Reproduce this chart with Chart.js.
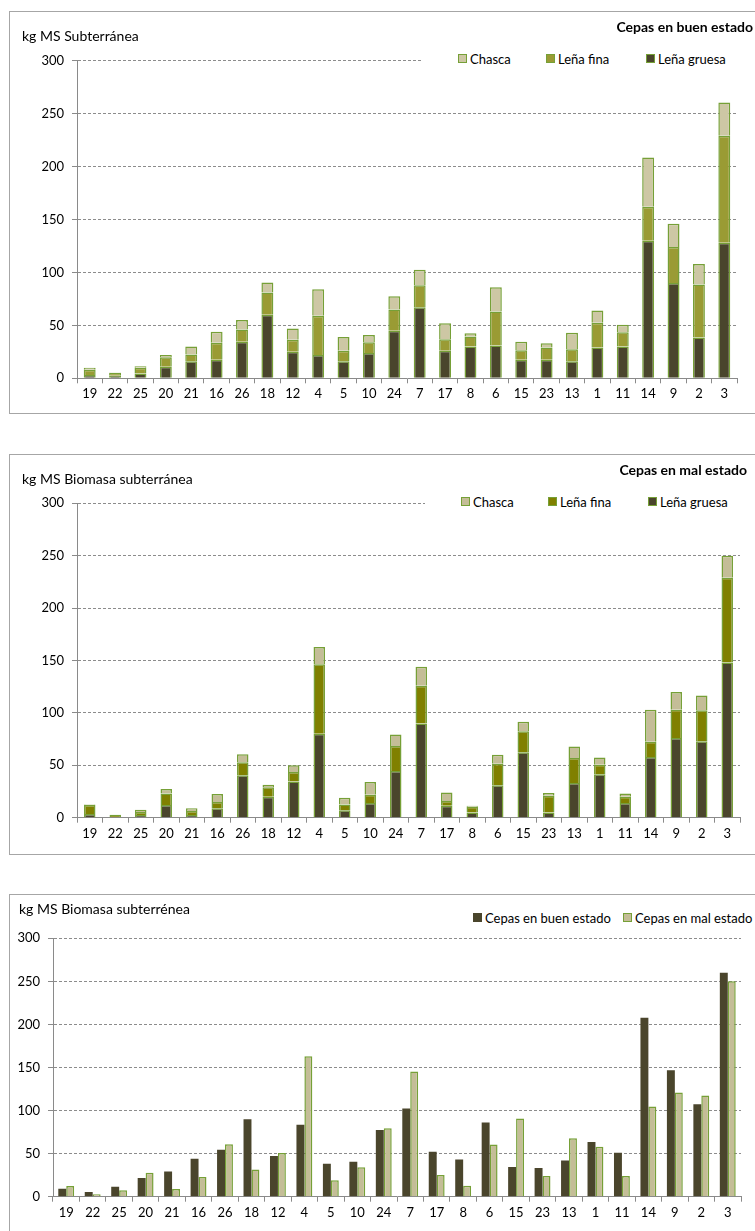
<!DOCTYPE html>
<html><head><meta charset="utf-8">
<script src="https://cdn.jsdelivr.net/npm/chart.js@4.4.1/dist/chart.umd.min.js"></script>
<style>
html,body{margin:0;padding:0;background:#fff;}
body{width:755px;height:1231px;overflow:hidden;position:relative;font-family:Lato,'Open Sans',sans-serif;color:#000;}
.frame{position:absolute;left:9px;width:800px;border:1px solid #a6a6a6;box-sizing:border-box;z-index:0;}
canvas{position:absolute;left:0;z-index:1;}
.txt{position:absolute;white-space:nowrap;z-index:2;line-height:18px;height:18px;}
.legend{position:absolute;background:#fff;height:16px;z-index:2;}
.li{position:absolute;top:0;white-space:nowrap;font-size:13px;line-height:16px;}
.sw{position:absolute;top:3px;left:0;width:9px;height:9px;box-sizing:border-box;}
.lt{position:absolute;left:12px;top:0;}
</style></head><body>
<script>
// ---------- data ----------
const categories = ['19','22','25','20','21','16','26','18','12','4','5','10','24','7','17','8','6','15','23','13','1','11','14','9','2','3'];
const yTicks = [0,50,100,150,200,250,300];

// Cepas en buen estado (kg MS)
const buenGruesa = [3,2.5,4.5,11,16,17.5,34.5,60,25,22,16,24,45,67,26,30,31,17.5,17.5,16,29,30,130,90,38.5,128];
const buenFina   = [5,2.8,5.5,9,6.5,16,11.5,21,11.5,37,10,10,20,21,11,9.5,32,9,11.5,11.5,23.5,13.5,32,34,50,101];
const buenChasca = [2,0.2,1.5,2,7.5,10.5,9,9.5,10.5,25,13,7,12.5,14.5,15,3,23,8,4,15.5,11.5,7,46.5,22,19.5,31.5];

// Cepas en mal estado (kg MS)
const malGruesa = [3.5,0.5,2.5,12,2.5,9,40.5,20,34.5,80,7,14,44.5,90,11.5,5,31,62.5,5,33,41.5,14,58,76,73,148];
const malFina   = [8.5,2,3,11,4,6,12.5,9,9,66.5,5.5,8,24,36,4.5,5.5,20.5,20,16,24,9,6,14.5,27,29.5,81];
const malChasca = [0.5,0.3,2,4.5,2.5,7.5,7.5,2.5,6.5,16.5,6.5,12,11,18,8,1,8.5,9,2.5,11,7,3,30.5,17,14,21];

// Comparación total
const totalBuen = [9.3,5.4,11.6,21.7,29.4,44.1,54.6,89.8,47.2,83.6,38.3,40.6,77.4,102.4,52.2,43.3,86.2,34.4,33.2,42.1,63.4,51,207.9,146.8,107.4,260];
const totalMal  = [12.4,2.7,7.4,27.9,8.9,22.8,60.8,31.7,50.7,163,19,34.1,79.6,145.3,25.1,12.8,60.7,90.8,24,68,58,24,104.7,120.9,117.5,250];

// ---------- styles ----------
const C_GRUESA = '#4a452c';
const C_FINA1 = '#9a9b34';
const C_FINA2 = '#808000';
const C_CHASCA1 = '#cdc7a4';
const C_CHASCA2 = '#c4bd97';
const C_BORDER = '#76a037';
const FONT = 'Lato';
const W = 755;

function addFrame(top, height){
  const d = document.createElement('div');
  d.className='frame'; d.style.top=top+'px'; d.style.height=height+'px';
  document.body.appendChild(d);
}
function addText(text, x, yc, opts){
  const d = document.createElement('div');
  d.className='txt'; d.textContent=text;
  d.style.top=(yc-9)+'px';
  d.style.fontSize=(opts.size||14)+'px';
  if(opts.bold) d.style.fontWeight='700';
  if(opts.right!==undefined){ d.style.right=(W-opts.right)+'px'; } else { d.style.left=x+'px'; }
  document.body.appendChild(d);
}
function addLegend(items, bgLeft, bgRight, yc){
  const lg = document.createElement('div');
  lg.className='legend';
  lg.style.left=bgLeft+'px'; lg.style.width=(bgRight-bgLeft)+'px'; lg.style.top=(yc-8)+'px';
  items.forEach(it=>{
    const li=document.createElement('div'); li.className='li'; li.style.left=(it.x-bgLeft)+'px';
    const sw=document.createElement('span'); sw.className='sw';
    sw.style.background=it.color;
    sw.style.border = it.border ? ('1px solid '+it.border) : 'none';
    const t=document.createElement('span'); t.className='lt'; t.textContent=it.label;
    li.appendChild(sw); li.appendChild(t); lg.appendChild(li);
  });
  document.body.appendChild(lg);
}
function addCanvas(top, height){
  const c=document.createElement('canvas');
  c.width=W; c.height=height; c.style.top=top+'px'; c.style.width=W+'px'; c.style.height=height+'px';
  document.body.appendChild(c);
  return c;
}
function makeOptions(area, H, stacked){
  const tickFont={family:FONT,size:13};
  return {
    responsive:false, animation:false, devicePixelRatio:1,
    layout:{padding:{left:0,right:W-area.right,top:area.top,bottom:0}},
    plugins:{legend:{display:false},title:{display:false},tooltip:{enabled:false}},
    scales:{
      x:{stacked:stacked,
         grid:{display:true,drawOnChartArea:false,drawTicks:true,tickLength:5,color:'#8a8a8a',offset:true},
         border:{color:'#8a8a8a',width:1},
         ticks:{color:'#000',font:tickFont,padding:3,maxRotation:0,autoSkip:false},
         afterFit(s){ s.height = H - area.bottom; }},
      y:{stacked:stacked, min:yTicks[0], max:yTicks[yTicks.length-1],
         ticks:{stepSize:yTicks[1]-yTicks[0],color:'#000',font:tickFont,padding:8},
         grid:{color:'#8c8c8c',tickLength:5,drawTicks:true,tickColor:'#8a8a8a'},
         border:{color:'#8a8a8a',width:1,dash:[3,2]},
         afterFit(s){ s.width = area.left; }}
    }
  };
}

// ---------- chart 1 ----------
addFrame(11, 403);
const c1 = addCanvas(0, 414);
const ds1 = [
  {label:'Leña gruesa', data:buenGruesa, backgroundColor:C_GRUESA},
  {label:'Leña fina', data:buenFina, backgroundColor:C_FINA1},
  {label:'Chasca', data:buenChasca, backgroundColor:C_CHASCA1}
].map(d=>Object.assign(d,{borderColor:C_BORDER,borderWidth:1.5,categoryPercentage:1,barPercentage:0.47}));
new Chart(c1,{type:'bar',data:{labels:categories,datasets:ds1},
  options:makeOptions({left:77,right:737,top:60.7,bottom:378.3},414,true)});
addText('kg MS Subterránea',22,36,{size:14});
addText('Cepas en buen estado',0,27,{size:14,bold:true,right:753});
addLegend(ds1.slice().reverse().map((d,i)=>({label:d.label,color:d.backgroundColor,border:C_BORDER,x:[458,546,646][i]})),423,740,58.7);

// ---------- chart 2 ----------
addFrame(454, 401);
const c2 = addCanvas(420, 434);
const ds2 = [
  {label:'Leña gruesa', data:malGruesa, backgroundColor:C_GRUESA},
  {label:'Leña fina', data:malFina, backgroundColor:C_FINA2},
  {label:'Chasca', data:malChasca, backgroundColor:C_CHASCA2}
].map(d=>Object.assign(d,{borderColor:C_BORDER,borderWidth:1.5,categoryPercentage:1,barPercentage:0.45}));
new Chart(c2,{type:'bar',data:{labels:categories,datasets:ds2},
  options:makeOptions({left:77,right:740,top:83.3,bottom:397.7},434,true)});
addText('kg MS Biomasa subterránea',22,479,{size:14});
addText('Cepas en mal estado',0,470,{size:14,bold:true,right:747});
addLegend(ds2.slice().reverse().map((d,i)=>({label:d.label,color:d.backgroundColor,border:C_BORDER,x:[461,548,648][i]})),425,745,502);

// ---------- chart 3 ----------
addFrame(894, 400);
const c3 = addCanvas(880, 351);
const ds3 = [
  {label:'Cepas en buen estado', data:totalBuen, backgroundColor:C_GRUESA, borderWidth:0},
  {label:'Cepas en mal estado', data:totalMal, backgroundColor:C_CHASCA2, borderColor:C_BORDER, borderWidth:1.5}
].map(d=>Object.assign(d,{categoryPercentage:0.6,barPercentage:1.0}));
new Chart(c3,{type:'bar',data:{labels:categories,datasets:ds3},
  options:makeOptions({left:53,right:741,top:58.3,bottom:316.7},351,false)});
addText('kg MS Biomasa subterrénea',19,909,{size:14});
addLegend(ds3.map((d,i)=>({label:d.label,color:d.backgroundColor,border:d.borderWidth?C_BORDER:null,x:[473,623][i]})),470,755,918);
</script>
</body></html>
